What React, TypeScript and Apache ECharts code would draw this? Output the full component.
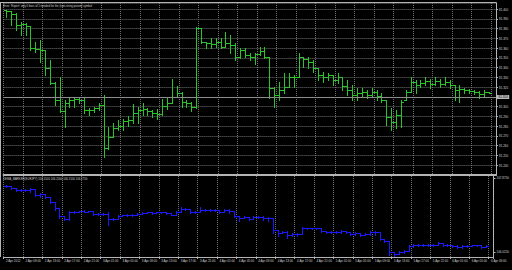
import { useEffect, useRef } from "react";
import * as echarts from "echarts";

// ---- main price panel (USDJPY-like, hourly bars) ----
const mainOpen = [81.399,81.398,81.395,81.384,81.385,81.383,81.360,81.359,81.358,81.340,
81.324,81.307,81.296,81.304,81.307,81.308,81.307,81.297,81.297,81.299,
81.302,81.258,81.269,81.278,81.280,81.285,81.286,81.294,81.297,81.298,
81.296,81.294,81.293,81.301,81.304,81.310,81.314,81.305,81.304,81.300,
81.381,81.366,81.365,81.364,81.366,81.361,81.365,81.363,81.351,81.358,
81.353,81.351,81.354,81.357,81.351,81.319,81.312,81.317,81.320,81.330,
81.330,81.351,81.349,81.346,81.340,81.333,81.331,81.333,81.327,81.330,
81.321,81.317,81.312,81.314,81.315,81.312,81.315,81.311,81.307,81.289,
81.284,81.292,81.307,81.315,81.325,81.322,81.324,81.326,81.323,81.326,
81.323,81.325,81.322,81.317,81.318,81.317,81.316,81.315,81.313,81.315];
const mainHigh = [81.399,81.398,81.396,81.387,81.386,81.383,81.366,81.368,81.358,81.348,
81.325,81.330,81.307,81.310,81.310,81.310,81.310,81.299,81.300,81.304,
81.312,81.279,81.283,81.286,81.287,81.290,81.303,81.300,81.304,81.299,
81.297,81.298,81.308,81.310,81.328,81.321,81.315,81.307,81.305,81.382,
81.381,81.366,81.371,81.371,81.370,81.377,81.374,81.365,81.360,81.360,
81.355,81.355,81.361,81.361,81.351,81.320,81.325,81.335,81.335,81.333,
81.355,81.351,81.351,81.348,81.340,81.336,81.335,81.333,81.335,81.330,
81.327,81.322,81.319,81.319,81.317,81.319,81.317,81.314,81.307,81.299,
81.297,81.307,81.317,81.331,81.327,81.327,81.331,81.328,81.330,81.328,
81.330,81.327,81.322,81.322,81.319,81.318,81.317,81.316,81.317,81.315];
const mainLow = [81.392,81.384,81.379,81.374,81.374,81.358,81.356,81.346,81.333,81.323,
81.302,81.295,81.279,81.300,81.300,81.304,81.294,81.292,81.295,81.297,
81.248,81.257,81.269,81.276,81.276,81.280,81.283,81.283,81.292,81.292,
81.289,81.287,81.292,81.298,81.304,81.310,81.300,81.300,81.296,81.299,
81.365,81.360,81.360,81.361,81.360,81.361,81.355,81.348,81.350,81.351,
81.348,81.344,81.353,81.350,81.309,81.300,81.307,81.314,81.320,81.320,
81.330,81.341,81.340,81.336,81.327,81.325,81.327,81.322,81.324,81.317,
81.312,81.307,81.307,81.310,81.309,81.310,81.307,81.305,81.281,81.276,
81.278,81.279,81.307,81.315,81.314,81.320,81.322,81.319,81.322,81.320,
81.322,81.319,81.307,81.305,81.314,81.314,81.313,81.309,81.310,81.314];
const mainClose = [81.398,81.395,81.384,81.385,81.383,81.360,81.359,81.358,81.340,81.324,
81.307,81.296,81.304,81.307,81.308,81.307,81.297,81.297,81.299,81.302,
81.258,81.269,81.278,81.280,81.285,81.286,81.294,81.297,81.298,81.296,
81.294,81.293,81.301,81.304,81.310,81.314,81.305,81.304,81.300,81.381,
81.366,81.365,81.364,81.366,81.361,81.365,81.363,81.351,81.358,81.353,
81.351,81.354,81.357,81.351,81.319,81.312,81.317,81.320,81.330,81.330,
81.351,81.349,81.346,81.340,81.333,81.331,81.333,81.327,81.330,81.321,
81.317,81.312,81.314,81.315,81.312,81.315,81.311,81.307,81.289,81.284,
81.292,81.305,81.315,81.325,81.322,81.324,81.326,81.323,81.326,81.323,
81.325,81.322,81.317,81.318,81.317,81.316,81.315,81.313,81.315,81.314];

// ---- indicator sub-window ----
const indFirstOpen = 107.675;
const indHigh = [107.700,107.675,107.625,107.600,107.600,107.625,107.600,107.500,107.475,107.400,
107.275,107.125,106.925,107.050,107.050,107.050,107.075,107.050,107.050,107.000,
107.000,107.025,106.875,106.950,106.950,106.975,106.975,107.000,107.025,107.025,
107.025,107.025,107.025,107.025,107.000,107.050,107.150,107.125,107.100,107.050,
107.150,107.100,107.100,107.100,107.075,107.100,107.100,107.050,106.925,106.925,
106.900,106.925,106.925,106.925,106.900,106.875,106.575,106.550,106.550,106.500,
106.500,106.650,106.625,106.625,106.625,106.625,106.550,106.550,106.550,106.575,
106.550,106.525,106.525,106.500,106.500,106.550,106.550,106.525,106.350,106.300,
106.025,106.050,106.075,106.200,106.225,106.225,106.225,106.225,106.225,106.275,
106.250,106.225,106.200,106.200,106.200,106.200,106.200,106.200,106.200,106.200];
const indLow = [107.650,107.600,107.550,107.550,107.550,107.525,107.425,107.400,107.375,107.250,
107.075,106.875,106.825,106.825,107.000,107.025,107.025,107.025,106.950,106.950,
106.950,106.700,106.825,106.850,106.925,106.925,106.925,106.950,106.975,107.000,
106.975,107.000,107.000,106.975,106.950,106.950,107.025,107.075,107.000,107.000,
107.025,107.050,107.050,107.050,107.000,107.025,107.000,106.900,106.800,106.875,
106.825,106.850,106.875,106.825,106.800,106.500,106.425,106.500,106.375,106.425,
106.425,106.475,106.600,106.600,106.600,106.525,106.500,106.500,106.500,106.500,
106.500,106.450,106.450,106.425,106.450,106.450,106.450,106.325,106.275,105.950,
105.925,105.975,106.000,106.050,106.150,106.175,106.175,106.175,106.175,106.200,
106.175,106.175,106.150,106.125,106.125,106.150,106.175,106.175,106.125,106.150];
const indClose = [107.675,107.625,107.575,107.575,107.575,107.600,107.450,107.475,107.400,107.275,
107.125,106.925,106.850,107.025,107.025,107.050,107.025,107.050,106.975,106.975,
106.975,106.850,106.850,106.925,106.950,106.950,106.950,106.975,107.000,107.025,
107.000,107.025,107.025,107.000,106.950,107.025,107.100,107.100,107.025,107.025,
107.075,107.075,107.075,107.075,107.025,107.075,107.050,106.925,106.875,106.900,
106.850,106.900,106.900,106.875,106.875,106.575,106.500,106.525,106.450,106.475,
106.475,106.625,106.625,106.625,106.625,106.550,106.525,106.525,106.525,106.550,
106.525,106.475,106.500,106.450,106.475,106.525,106.525,106.350,106.300,106.025,
105.975,106.025,106.050,106.175,106.200,106.200,106.200,106.200,106.200,106.250,
106.200,106.200,106.175,106.150,106.175,106.175,106.200,106.200,106.150,106.175];

// ---- axis labels / texts ----
const indAxisLabels = [106.025, 107.875];
const errorText = "Error: 'Expert' only 0 bars of 1 needed for the (non-string param) symbol";
const indTitle = "DEMA_MARKER(EURJPY) 106.1500 106.2000 106.1500 106.1750";

// hourly categories starting 2 Apr 2012 05:00 (plus one empty slot for chart shift)
const categories: string[] = [];
for (let i = 0; i < 101; i++) {
  const t = new Date(Date.UTC(2012, 3, 2, 5 + i));
  const hh = String(t.getUTCHours()).padStart(2, "0");
  categories.push(i === 0 ? "2 Apr 2012" : `${t.getUTCDate()} Apr ${hh}:00`);
}

const FONT = "Liberation Sans";
const GRID_LINE = { color: "#707070", type: [1, 1] as any, width: 1 };
const AXIS_COLOR = "#b4b4b4";
const TEXT_COLOR = "#d2d2d2";

function ohlcRenderer(color: string) {
  return (_params: any, api: any) => {
    const idx = api.value(0);
    const o = api.coord([idx, api.value(1)]);
    const h = api.coord([idx, api.value(2)]);
    const l = api.coord([idx, api.value(3)]);
    const c = api.coord([idx, api.value(4)]);
    const x = Math.round(o[0]) + 0.5;
    const snap = (y: number) => Math.round(y) + 0.5;
    const style = { stroke: color, lineWidth: 1 };
    return {
      type: "group",
      children: [
        { type: "line", shape: { x1: x, y1: Math.round(h[1]), x2: x, y2: Math.round(l[1]) + 1 }, style },
        { type: "line", shape: { x1: x - 2.5, y1: snap(o[1]), x2: x, y2: snap(o[1]) }, style },
        { type: "line", shape: { x1: x, y1: snap(c[1]), x2: x + 2.5, y2: snap(c[1]) }, style },
      ],
    };
  };
}

export default function App() {
  const ref = useRef<HTMLDivElement>(null);
  useEffect(() => {
    if (!ref.current) return;
    const chart = echarts.init(ref.current, null, { renderer: "svg" });
    const mainData = mainOpen.map((o, i) => [i, o, mainHigh[i], mainLow[i], mainClose[i]]);
    const indData = indClose.map((c, i) => [i, i === 0 ? indFirstOpen : indClose[i - 1], indHigh[i], indLow[i], c]);
    const bid = mainClose[mainClose.length - 1];
    chart.setOption({
      animation: false,
      backgroundColor: "#000000",
      textStyle: { fontFamily: FONT },
      title: [
        { text: errorText, left: 3, top: 4, padding: 0, textStyle: { fontSize: 2.8, color: TEXT_COLOR, fontWeight: "normal", fontFamily: FONT } },
        { text: indTitle, left: 3, top: 177.5, padding: 0, textStyle: { fontSize: 2.8, color: TEXT_COLOR, fontWeight: "normal", fontFamily: FONT } },
      ],
      graphic: [
        { type: "line", shape: { x1: 0.5, y1: 2.5, x2: 0.5, y2: 257 }, style: { stroke: AXIS_COLOR, lineWidth: 1 } },
        { type: "line", shape: { x1: 0, y1: 2.5, x2: 496.5, y2: 2.5 }, style: { stroke: AXIS_COLOR, lineWidth: 1 } },
      ],
      grid: [
        { left: 3.6, right: 16, top: 3, height: 172 },
        { left: 3.6, right: 16, top: 176, height: 81 },
      ],
      xAxis: [
        {
          type: "category", gridIndex: 0, data: categories, boundaryGap: true,
          axisLine: { show: true, lineStyle: { color: AXIS_COLOR, width: 2 } },
          axisTick: { show: false }, axisLabel: { show: false },
          splitLine: { show: true, interval: 3, lineStyle: GRID_LINE },
        },
        {
          type: "category", gridIndex: 1, data: categories, boundaryGap: true,
          axisLine: { show: true, lineStyle: { color: AXIS_COLOR, width: 1 } },
          axisTick: { show: true, interval: 3, length: 2, lineStyle: { color: AXIS_COLOR } },
          axisLabel: { show: true, interval: 3, fontSize: 3, color: TEXT_COLOR, align: "left", margin: 2, fontFamily: FONT },
          splitLine: { show: true, interval: 3, lineStyle: GRID_LINE },
        },
      ],
      yAxis: [
        {
          type: "value", gridIndex: 0, position: "right", min: 81.23, max: 81.4064, interval: 0.01, scale: true,
          axisLine: { show: true, lineStyle: { color: AXIS_COLOR, width: 1 } },
          axisTick: { show: true, length: 2, lineStyle: { color: AXIS_COLOR } },
          axisLabel: {
            fontSize: 3, color: TEXT_COLOR, margin: 3, fontFamily: FONT,
            showMinLabel: false, showMaxLabel: false,
            formatter: (v: number) => v.toFixed(3),
          },
          splitLine: { show: true, lineStyle: GRID_LINE },
        },
        {
          type: "value", gridIndex: 1, position: "right", min: 105.9, max: 107.925, scale: true,
          axisLine: { show: true, lineStyle: { color: AXIS_COLOR, width: 1 } },
          axisTick: { show: true, length: 2, customValues: indAxisLabels, lineStyle: { color: AXIS_COLOR } },
          axisLabel: {
            fontSize: 3, color: TEXT_COLOR, margin: 3, fontFamily: FONT,
            customValues: indAxisLabels,
            formatter: (v: number) => v.toFixed(4),
          },
          splitLine: { show: false },
        },
      ],
      series: [
        {
          type: "custom", xAxisIndex: 0, yAxisIndex: 0,
          renderItem: ohlcRenderer("#2bc42b"),
          data: mainData,
          encode: { x: 0, y: [1, 2, 3, 4] },
          markLine: {
            silent: true, symbol: ["none", "none"],
            lineStyle: { color: "#8c8c8c", type: "solid", width: 1 },
            label: {
              show: true, position: "end", distance: 1, formatter: bid.toFixed(3),
              fontSize: 3, color: "#000000", backgroundColor: "#b8b8b8", padding: [0.5, 1.5], fontFamily: FONT,
            },
            data: [{ yAxis: bid }],
          },
        },
        {
          type: "custom", xAxisIndex: 1, yAxisIndex: 1,
          renderItem: ohlcRenderer("#1a1aff"),
          data: indData,
          encode: { x: 0, y: [1, 2, 3, 4] },
        },
      ],
    });
    return () => chart.dispose();
  }, []);
  return (
    <div
      ref={ref}
      style={{ position: "fixed", left: 0, top: 0, width: 512, height: 270, background: "#000" }}
    />
  );
}
